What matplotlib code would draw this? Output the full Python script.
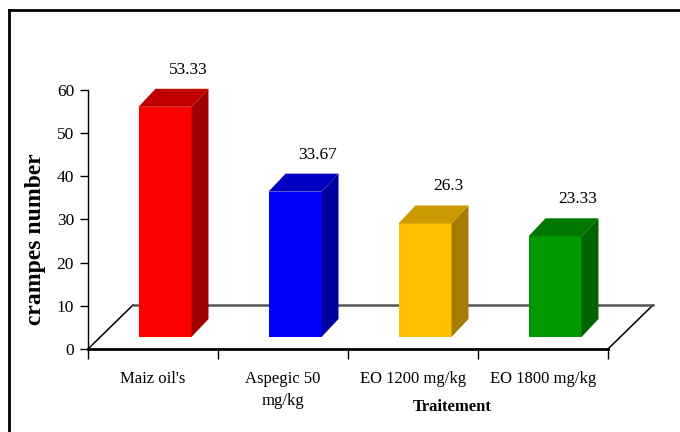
import matplotlib
matplotlib.use("Agg")
import matplotlib.pyplot as plt
from matplotlib.patches import Polygon

categories = ["Maiz oil's", "Aspegic 50\nmg/kg", "EO 1200 mg/kg", "EO 1800 mg/kg"]
values = [53.33, 33.67, 26.3, 23.33]
value_labels = ["53.33", "33.67", "26.3", "23.33"]
front_colors = ["#FF0000", "#0000FF", "#FFC000", "#009900"]
top_colors = ["#C00000", "#0000C0", "#CC9900", "#007800"]
side_colors = ["#A00000", "#0000A0", "#A67C00", "#006400"]

plt.rcParams["font.family"] = ["Liberation Serif", "DejaVu Serif"]

W, H = 680, 432
fig = plt.figure(figsize=(6.8, 4.32), dpi=100)
ax = fig.add_axes([88 / W, (H - 349) / H, 520 / W, 259 / H])
ax.set_xlim(-0.5, 3.5)
ax.set_ylim(0, 60)

# pixel -> data units
px = 1 / 130
py = 60 / 259

# floor (3D look)
fdx, fdy = 45 * px, 44 * py
floor = [(-0.5, 0), (3.5, 0), (3.5 + fdx, fdy), (-0.5 + fdx, fdy)]
ax.add_patch(Polygon(floor, closed=True, facecolor="white", edgecolor="none",
                     zorder=1, clip_on=False))
ax.plot([-0.5, -0.5 + fdx], [0, fdy], color="black", lw=1.1, zorder=2, clip_on=False)
ax.plot([3.5, 3.5 + fdx], [0, fdy], color="black", lw=1.1, zorder=2, clip_on=False)
ax.plot([-0.5 + fdx, 3.5 + fdx], [fdy, fdy], color="#555555", lw=1.8, zorder=2,
        clip_on=False)

# bars
w = 53 * px
d1x, d1y = 12 * px, 12 * py
bdx, bdy = 17 * px, 18 * py
xs = [i + d1x for i in range(len(values))]
ax.bar(xs, values, width=w, bottom=d1y, color=front_colors, zorder=3,
       clip_on=False, linewidth=0)
for i, v in enumerate(values):
    x0 = xs[i] - w / 2
    x1 = xs[i] + w / 2
    y0 = d1y
    y1 = v + d1y
    side = [(x1, y0), (x1 + bdx, y0 + bdy), (x1 + bdx, y1 + bdy), (x1, y1)]
    top = [(x0, y1), (x1, y1), (x1 + bdx, y1 + bdy), (x0 + bdx, y1 + bdy)]
    ax.add_patch(Polygon(side, closed=True, facecolor=side_colors[i],
                         edgecolor="none", zorder=3, clip_on=False))
    ax.add_patch(Polygon(top, closed=True, facecolor=top_colors[i],
                         edgecolor="none", zorder=3, clip_on=False))
    ax.text(i + 35 * px, y1 + bdy + 11 * py, value_labels[i], ha="center",
            va="bottom", fontsize=12.5, clip_on=False)

# axes
for s in ["top", "right"]:
    ax.spines[s].set_visible(False)
ax.spines["left"].set_linewidth(1.0)
ax.spines["bottom"].set_linewidth(2.0)
ax.spines["left"].set_zorder(4)
ax.spines["bottom"].set_zorder(4)
ax.set_yticks(range(0, 61, 10))
ax.tick_params(axis="y", direction="out", length=6, width=1, labelsize=12.5, pad=4)
ax.set_xticks(range(len(categories)))
ax.set_xticklabels(categories, fontsize=12, linespacing=1.5)
ax.set_xticks([-0.5, 0.5, 1.5, 2.5, 3.5], minor=True)
ax.tick_params(axis="x", which="major", length=0, pad=16)
ax.tick_params(axis="x", which="minor", direction="out", length=7, width=1)
ax.patch.set_alpha(0)

fig.text(36 / W, 1 - 239 / H, "crampes number", rotation=90, ha="center",
         va="center", fontsize=17, fontweight="bold")
fig.text(452 / W, 1 - 407 / H, "Traitement", ha="center", va="center",
         fontsize=12, fontweight="bold")

# outer frame (top and left only visible)
fig.add_artist(plt.Line2D([9 / W, 1], [1 - 10 / H, 1 - 10 / H], color="black", lw=2))
fig.add_artist(plt.Line2D([9 / W, 9 / W], [0, 1 - 10 / H], color="black", lw=2))

fig.savefig("out.png", dpi=100)
